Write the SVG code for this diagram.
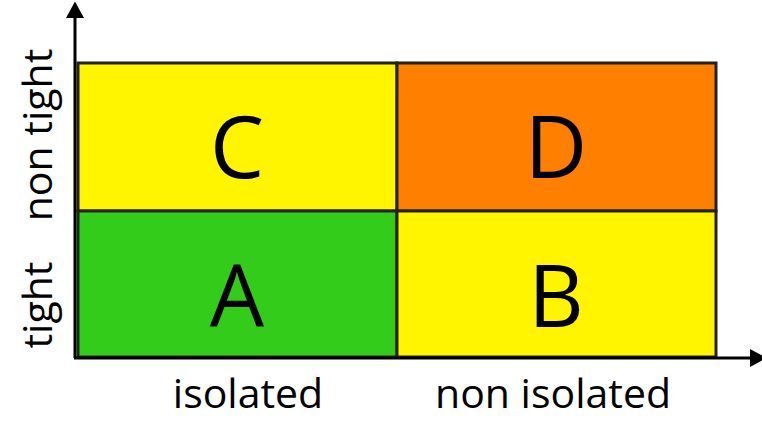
<svg xmlns="http://www.w3.org/2000/svg" width="762" height="422" viewBox="0 0 762 422">
<style>
.cell{stroke:#222;stroke-width:3}
.big{font-family:"Open Sans","Liberation Sans",sans-serif;font-size:86px;fill:#000;text-anchor:middle}
.lbl{font-family:"Open Sans","Liberation Sans",sans-serif;font-size:41px;fill:#000;text-anchor:middle}
.axis{stroke:#000;stroke-width:3;fill:none}
</style>
<defs>
<marker id="ah" markerWidth="6" markerHeight="6" refX="0" refY="3" orient="auto" markerUnits="strokeWidth">
<path d="M0,0 L5.5,3 L0,6 Z" fill="#000"/>
</marker>
</defs>
<g id="cellC"><rect class="cell" x="78" y="63" width="319" height="148" fill="#FFF500"/><text class="big" x="237" y="178">C</text></g>
<g id="cellD"><rect class="cell" x="397" y="63" width="319" height="148" fill="#FF7F00"/><text class="big" x="556" y="178">D</text></g>
<g id="cellA"><rect class="cell" x="78" y="211" width="319" height="146" fill="#33CC1A"/><text class="big" x="237" y="327">A</text></g>
<g id="cellB"><rect class="cell" x="397" y="211" width="319" height="146" fill="#FFF500"/><text class="big" x="556" y="327">B</text></g>
<g id="connectors">
<line class="axis" x1="75" y1="358" x2="75" y2="18" marker-end="url(#ah)"/>
<line class="axis" x1="74" y1="358" x2="750" y2="358" marker-end="url(#ah)"/>
</g>
<g id="labels">
<text class="lbl" x="248" y="408">isolated</text>
<text class="lbl" x="553" y="408">non isolated</text>
<text class="lbl" transform="translate(52,135) rotate(-90)">non tight</text>
<text class="lbl" transform="translate(52,305) rotate(-90)">tight</text>
</g>
</svg>
